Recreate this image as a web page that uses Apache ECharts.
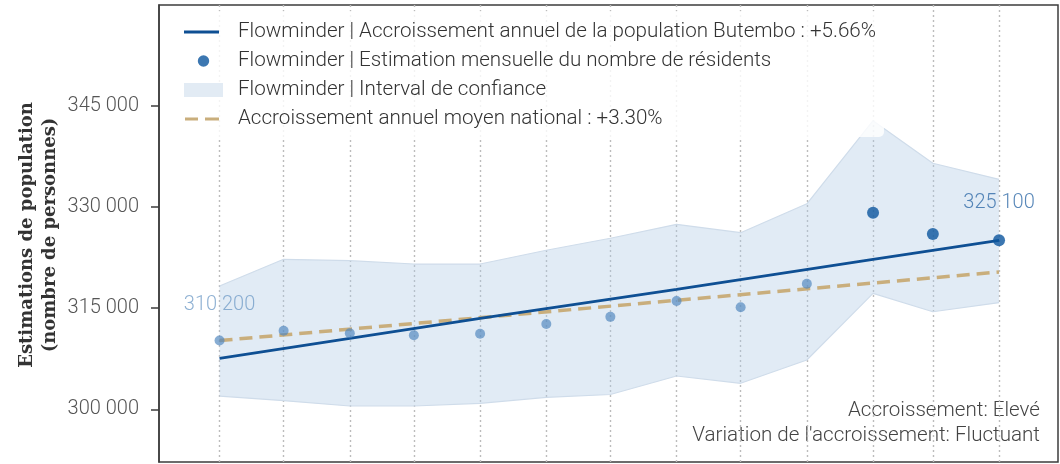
<!DOCTYPE html>
<html><head><meta charset="utf-8">
<script src="https://cdn.jsdelivr.net/npm/echarts@6/dist/echarts.min.js"></script>
<style>html,body{margin:0;padding:0;background:#fff}#c{width:1060px;height:464px}</style>
</head><body><div id="c"></div>
<script>
// ---- data ----
const months = ['2022-04','2022-05','2022-06','2022-07','2022-08','2022-09','2022-10','2022-11','2022-12','2023-01','2023-02','2023-03','2023-04'];
const residents = [310200,311660,311280,310980,311220,312660,313720,316070,315140,318640,329180,326010,325100];
const ciUpper = [318300,322260,322050,321560,321560,323600,325380,327450,326210,330500,342830,336510,334130];
const ciLower = [301970,301280,300490,300490,300890,301780,302200,304940,303860,307320,317210,314480,315820];
const trendMonths = ['2022-04','2022-08','2022-11','2023-02','2023-04'];
const trendValues = [307570,313500,317810,322260,325080];
const nationalMonths = ['2022-04','2023-04'];
const nationalValues = [310200,320380];
const yTicks = [300000,315000,330000,345000];
const legendNames = [
  'Flowminder | Accroissement annuel de la population Butembo : +5.66%',
  'Flowminder | Estimation mensuelle du nombre de résidents',
  'Flowminder | Interval de confiance',
  'Accroissement annuel moyen national : +3.30%'
];
const yTitle = ['Estimations de population', '(nombre de personnes)'];
const annotations = ['Accroissement: Elevé', "Variation de l'accroissement: Fluctuant"];
const highlightCount = 3;

// ---- helpers ----
const DAY = 86400000;
const toTs = s => { const [y, m] = s.split('-').map(Number); return new Date(y, m - 1, 1).getTime(); };
const fmt = v => String(Math.round(v)).replace(/\B(?=(\d{3})+(?!\d))/g, ' ');
const ts = months.map(toTs);
const n = residents.length;

const C_TREND = '#0e4f93', C_NAT = '#c9ae7c', C_FILL = '#e2ebf4', C_EDGE = '#cfdcea';
const C_DARK = '#0b559e';
const FONT = 'Roboto';

const scatterData = residents.map((v, i) => {
  const item = { value: [ts[i], v] };
  if (i === 0 || i === n - 1) {
    item.label = { show: true, color: i === 0 ? '#739ec8' : '#2f6aa8' };
  }
  return item;
});

const chart = echarts.init(document.getElementById('c'), null, { renderer: 'canvas' });
chart.setOption({
  animation: false,
  backgroundColor: '#fff',
  grid: { left: 159, right: 2, top: 5, bottom: 2, show: true, borderColor: '#3c3c3c', borderWidth: 1.5, backgroundColor: 'transparent' },
  xAxis: {
    type: 'time',
    min: ts[0] - 28.35 * DAY,
    max: ts[n - 1] + 27.6 * DAY,
    axisLabel: { show: false }, axisTick: { show: false }, axisLine: { show: false }, splitLine: { show: false }
  },
  yAxis: {
    type: 'value', min: 292180, max: 360000,
    splitLine: { show: false },
    axisLine: { show: true, lineStyle: { color: '#3c3c3c', width: 1.5 } },
    axisTick: { show: true, length: 8, customValues: yTicks, lineStyle: { color: '#3c3c3c', width: 1.5 } },
    axisLabel: { customValues: yTicks, formatter: fmt, fontSize: 20, color: '#555', fontFamily: FONT, fontWeight: 300, margin: 20 }
  },
  legend: {
    orient: 'vertical', left: 172, top: 11,
    itemWidth: 39, itemHeight: 16, itemGap: 7,
    padding: [10, 8, 7, 12],
    backgroundColor: 'rgba(255,255,255,0.82)', borderRadius: 5,
    selectedMode: false,
    itemStyle: { borderWidth: 0 },
    textStyle: { fontSize: 20.6, color: '#333', fontFamily: FONT, fontWeight: 300, lineHeight: 22, padding: [0, 0, 0, 10] },
    data: [
      { name: legendNames[0], icon: 'path://M0,0 M39,16 M0,6.6 L35,6.6 L35,9.4 L0,9.4 Z', itemStyle: { color: C_TREND, borderWidth: 0 } },
      { name: legendNames[1], icon: 'path://M0,0 M39,16 M13.8,8 A5.7,5.7 0 1,1 25.2,8 A5.7,5.7 0 1,1 13.8,8 Z', itemStyle: { color: C_DARK, borderWidth: 0 } },
      { name: legendNames[2], icon: 'path://M0,1 L39,1 L39,15 L0,15 Z M0,0 M39,16', itemStyle: { color: C_FILL, borderWidth: 0 } },
      { name: legendNames[3], icon: 'path://M0,0 M39,16 M1,6.5 L14,6.5 L14,9.5 L1,9.5 Z M21,6.5 L35,6.5 L35,9.5 L21,9.5 Z', itemStyle: { color: C_NAT, borderWidth: 0 } }
    ]
  },
  series: [
    {
      type: 'line', name: 'ciLower', stack: 'ci', silent: true, z: 1,
      data: ciLower.map((v, i) => [ts[i], v]),
      symbol: 'none', lineStyle: { color: C_EDGE, width: 1.2 },
      markLine: {
        z: 1,
        silent: true, symbol: 'none', label: { show: false },
        lineStyle: { color: '#bcbcbc', width: 1.4, type: [2, 3] },
        data: ts.map(t => ({ xAxis: t }))
      }
    },
    {
      type: 'line', name: legendNames[2], stack: 'ci', silent: true, z: 1,
      data: ciUpper.map((v, i) => [ts[i], v - ciLower[i]]),
      symbol: 'none', lineStyle: { color: C_EDGE, width: 1.2 },
      itemStyle: { color: C_FILL },
      areaStyle: { color: 'rgba(172,199,227,0.36)', opacity: 1 }
    },
    {
      type: 'line', name: legendNames[3], z: 3,
      data: nationalValues.map((v, i) => [toTs(nationalMonths[i]), v]),
      symbol: 'none', lineStyle: { color: C_NAT, width: 3.5, type: [13, 7] },
      itemStyle: { color: C_NAT }
    },
    {
      type: 'line', name: legendNames[0], z: 3,
      data: trendValues.map((v, i) => [toTs(trendMonths[i]), v]),
      symbol: 'none', lineStyle: { color: C_TREND, width: 2.8 },
      itemStyle: { color: C_TREND }
    },
    {
      type: 'scatter', name: legendNames[1], z: 4,
      data: scatterData,
      symbol: 'circle',
      symbolSize: (v, p) => p.dataIndex >= n - highlightCount ? 12 : 10,
      itemStyle: { color: p => p.dataIndex >= n - highlightCount ? C_DARK : 'rgba(80,135,190,0.85)' },
      label: { show: false, position: 'top', distance: 21, fontSize: 20, fontFamily: FONT, fontWeight: 300, formatter: p => fmt(Math.round(p.value[1] / 100) * 100) }
    }
  ],
  graphic: [
    {
      type: 'text', x: 39, y: 235, rotation: Math.PI / 2, silent: true,
      style: { text: yTitle.join('\n'), font: 'bold 18px "DejaVu Serif", serif', fill: '#333', align: 'center', textAlign: 'center', verticalAlign: 'middle', textVerticalAlign: 'middle', lineHeight: 23 }
    },
    {
      type: 'text', x: 1040, y: 411, silent: true,
      style: { text: annotations[0], font: '300 20.6px Roboto', fill: '#444', align: 'right', textAlign: 'right', verticalAlign: 'middle', textVerticalAlign: 'middle' }
    },
    {
      type: 'text', x: 1040, y: 436, silent: true,
      style: { text: annotations[1], font: '300 20.6px Roboto', fill: '#444', align: 'right', textAlign: 'right', verticalAlign: 'middle', textVerticalAlign: 'middle' }
    }
  ]
});
</script>
</body></html>
